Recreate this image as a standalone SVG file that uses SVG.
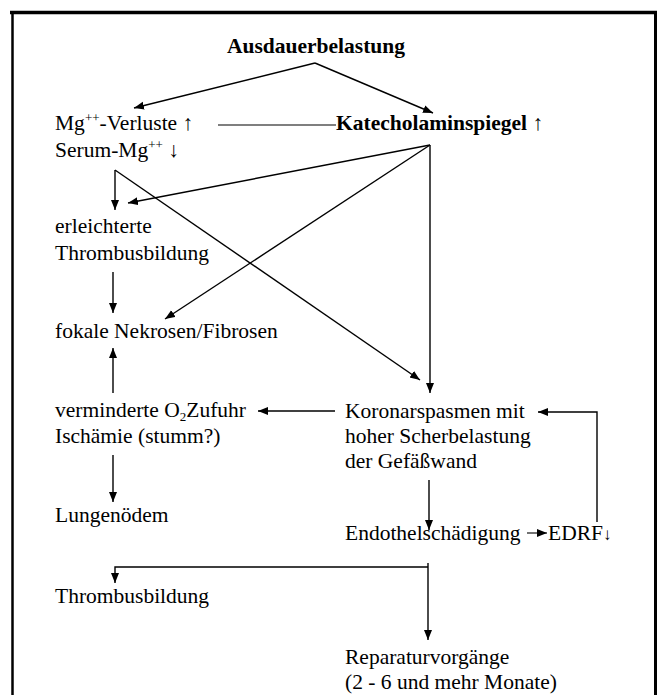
<svg xmlns="http://www.w3.org/2000/svg" width="661" height="695" viewBox="0 0 661 695">
<style>
text{font-family:"Liberation Serif","Times New Roman",serif;font-size:21.5px;fill:#000}
.b{font-weight:bold}
.c{fill:none;stroke:#000;stroke-width:1.4}
.t{stroke-width:1.1}
.sup{font-size:13px}
</style>
<defs>
<marker id="ah" markerUnits="userSpaceOnUse" markerWidth="11" markerHeight="9" refX="10" refY="4" orient="auto">
<path d="M0,0 L10,4 L0,8 z" fill="#000"/>
</marker>
</defs>
<rect width="661" height="695" fill="#fff"/>
<g id="frame" stroke="#000" fill="none">
<line x1="10" y1="12.5" x2="657" y2="12.5" stroke-width="3.5"/>
<line x1="12.5" y1="11" x2="12.5" y2="695" stroke-width="2.5"/>
<line x1="655.5" y1="11" x2="655.5" y2="695" stroke-width="3"/>
</g>
<g id="connectors">
<path class="c" d="M315,63 L134,108" marker-end="url(#ah)"/>
<path class="c" d="M315,63 L433,113" marker-end="url(#ah)"/>
<path class="c t" d="M218,125 L336,125"/>
<path class="c" d="M115,170 L115,210" marker-end="url(#ah)"/>
<path class="c" d="M115,170 L420,380" marker-end="url(#ah)"/>
<path class="c" d="M430,145 L128,203" marker-end="url(#ah)"/>
<path class="c" d="M430,145 L165,319" marker-end="url(#ah)"/>
<path class="c" d="M430,145 L430,393" marker-end="url(#ah)"/>
<path class="c" d="M113,272 L113,313" marker-end="url(#ah)"/>
<path class="c" d="M113,393 L113,348" marker-end="url(#ah)"/>
<path class="c" d="M335,411 L258,411" marker-end="url(#ah)"/>
<path class="c" d="M113,455 L113,502" marker-end="url(#ah)"/>
<path class="c" d="M429,480 L429,530" marker-end="url(#ah)"/>
<path class="c t" d="M527,533 L547,533" marker-end="url(#ah)"/>
<path class="c" d="M597,522 L597,412 L538,412" marker-end="url(#ah)"/>
<path class="c" d="M428,567 L115,567 L115,583" marker-end="url(#ah)"/>
<path class="c" d="M428,563 L428,640" marker-end="url(#ah)"/>
</g>
<g id="n-ausdauer"><text class="b" x="227" y="53">Ausdauerbelastung</text></g>
<g id="n-mg"><text x="55" y="130">Mg<tspan class="sup" dy="-8">++</tspan><tspan dy="8">-Verluste ↑</tspan></text>
<text x="55" y="157">Serum-Mg<tspan class="sup" dy="-8">++</tspan><tspan dy="8"> ↓</tspan></text></g>
<g id="n-katechol"><text class="b" x="336" y="130">Katecholaminspiegel ↑</text></g>
<g id="n-erleichtert"><text x="55" y="233">erleichterte</text><text x="55" y="260">Thrombusbildung</text></g>
<g id="n-fokale"><text x="55" y="338">fokale Nekrosen/Fibrosen</text></g>
<g id="n-vermindert"><text x="55" y="417">verminderte O<tspan class="sup" dy="4">2</tspan><tspan dy="-4">Zufuhr</tspan></text><text x="55" y="443">Ischämie (stumm?)</text></g>
<g id="n-lunge"><text x="55" y="522">Lungenödem</text></g>
<g id="n-thrombus"><text x="55" y="603">Thrombusbildung</text></g>
<g id="n-koronar"><text x="345" y="418">Koronarspasmen mit</text><text x="345" y="443">hoher Scherbelastung</text><text x="345" y="468">der Gefäßwand</text></g>
<g id="n-endothel"><text x="345" y="540">Endothelschädigung</text></g>
<g id="n-edrf"><text x="548" y="540">EDRF<tspan font-size="17">↓</tspan></text></g>
<g id="n-reparatur"><text x="345" y="664">Reparaturvorgänge</text><text x="345" y="689">(2 - 6 und mehr Monate)</text></g>
</svg>
